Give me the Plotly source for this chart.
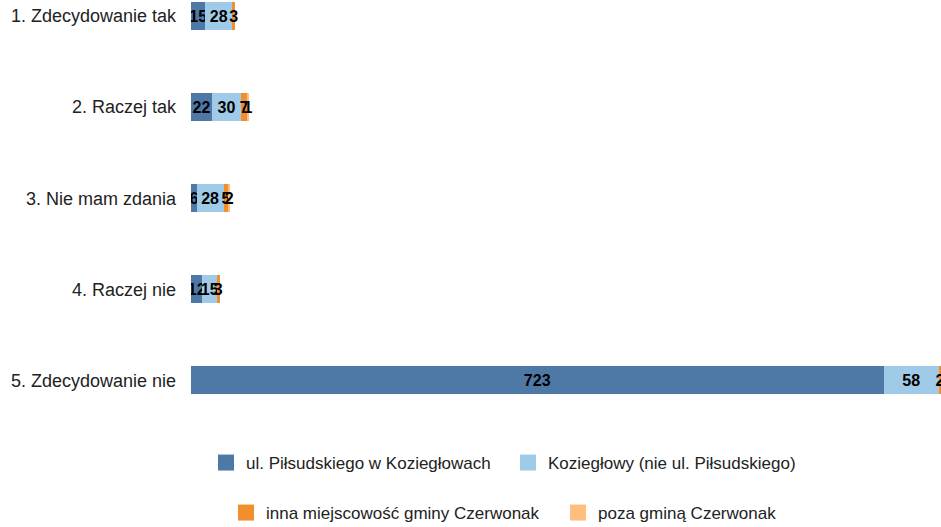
"""Stacked horizontal bar chart of answers by place of residence."""
import plotly.graph_objects as go

categories = [
    '1. Zdecydowanie tak',
    '2. Raczej tak',
    '3. Nie mam zdania',
    '4. Raczej nie',
    '5. Zdecydowanie nie',
]
series_names = [
    'ul. Piłsudskiego w Koziegłowach',
    'Koziegłowy (nie ul. Piłsudskiego)',
    'inna miejscowość gminy Czerwonak',
    'poza gminą Czerwonak',
]
pilsudskiego = [15, 22, 6, 12, 723]
kozieglowy = [28, 30, 28, 15, 58]
inna_gmina = [3, 7, 5, 3, 2]
poza_gmina = [0, 1, 2, 0, 0]

series_values = [pilsudskiego, kozieglowy, inna_gmina, poza_gmina]
colors = ['#4e79a7', '#a0cbe8', '#f28e2b', '#ffbe7d']
FONT = 'Liberation Sans, Arial, sans-serif'

# one legend per entry so each swatch sits where the original has it
legend_ids = ['legend', 'legend2', 'legend3', 'legend4']
legend_pos = [(206, 463), (508, 463), (226, 513), (558, 513)]

fig = go.Figure()
for name, vals, color in zip(series_names, series_values, colors):
    fig.add_trace(go.Bar(
        y=categories,
        x=vals,
        name=name,
        orientation='h',
        marker=dict(color=color, line=dict(width=0)),
        text=[str(v) if v else '' for v in vals],
        textposition='inside',
        insidetextanchor='middle',
        textangle=0,
        constraintext='none',
        textfont=dict(family=FONT, size=16, color='black', weight='bold'),
        showlegend=False,
        legendgroup=name,
    ))

# legend entries with larger square swatches
for name, color, lg in zip(series_names, colors, legend_ids):
    fig.add_trace(go.Scatter(
        x=[None], y=[None],
        mode='markers',
        name=name,
        marker=dict(symbol='square', size=16, color=color),
        legend=lg,
        legendgroup=name,
    ))

W, H = 941, 527
legend_layout = {}
for lg, (px, py) in zip(legend_ids, legend_pos):
    legend_layout[lg] = dict(
        orientation='h',
        xref='container',
        yref='container',
        xanchor='left',
        yanchor='middle',
        x=px / W,
        y=1 - py / H,
        font=dict(family=FONT, size=17, color='#222'),
        bgcolor='rgba(0,0,0,0)',
        itemsizing='trace',
    )

fig.update_layout(
    barmode='stack',
    bargap=0.69,
    width=W,
    height=H,
    margin=dict(l=191, r=0, t=0, b=102),
    plot_bgcolor='white',
    paper_bgcolor='white',
    font=dict(family=FONT, size=18, color='#222'),
    xaxis=dict(range=[0, 783], visible=False, showgrid=False, zeroline=False),
    yaxis=dict(
        range=[4.49, -0.176],
        showgrid=False,
        zeroline=False,
        ticks='',
        ticklabelstandoff=14,
        tickfont=dict(family=FONT, size=18, color='#222'),
    ),
    showlegend=True,
    **legend_layout,
)

fig.write_html(
    'out.html',
    config={'displayModeBar': False},
    post_script="document.body.style.margin='0';document.body.style.overflow='hidden';",
)
